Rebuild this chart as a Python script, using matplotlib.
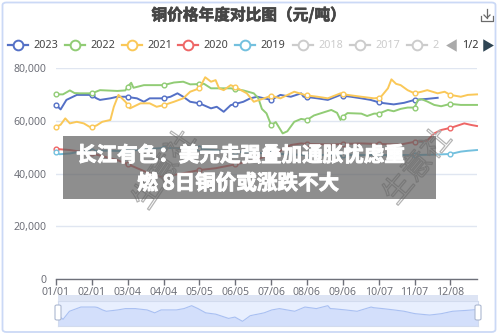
import numpy as np
import matplotlib
matplotlib.use("Agg")
import matplotlib.pyplot as plt
from matplotlib.lines import Line2D
from matplotlib.patches import Rectangle, FancyBboxPatch
import matplotlib.patheffects as pe

plt.rcParams['font.family'] = ['Noto Sans', 'Noto Sans CJK SC', 'DejaVu Sans']

# ---------------- data (values in yuan/ton, x = day index from 01/01) -------------
tick_labels = ["01/01", "02/01", "03/04", "04/04", "05/05", "06/05",
               "07/06", "08/06", "09/06", "10/07", "11/07", "12/08"]
tick_days = [0, 31, 62, 93, 124, 155, 186, 217, 248, 279, 310, 341]

days_2023 = [0, 4, 9, 18, 29, 31, 35, 38, 47, 53, 61, 62, 70, 76, 81, 93, 99, 105, 110, 116,
             124, 134, 139, 145, 151, 155, 157, 162, 168, 174, 180, 186, 194, 203, 212, 214,
             217, 226, 235, 246, 248, 255, 264, 272, 279, 281, 292, 301, 310, 321, 330]
vals_2023 = [66.0, 64.3, 67.9, 69.8, 69.8, 69.6, 68.5, 67.9, 68.5, 69.1,
             69.1, 69.0, 68.5, 67.2, 68.5, 68.5, 69.1, 70.4, 69.1, 67.2,
             66.6, 64.7, 65.3, 63.4, 65.9, 66.4, 66.6, 67.2, 68.5, 69.1,
             68.5, 67.9, 69.8, 69.1, 70.4, 69.1, 69.0, 68.5, 67.9, 69.8,
             69.5, 69.1, 68.5, 67.9, 67.0, 66.8, 66.2, 66.8, 67.9, 68.3, 68.7]

days_2022 = [0, 6, 12, 16, 21, 31, 38, 53, 60, 62, 65, 67, 76, 93, 102, 110, 116, 124, 128,
             134, 151, 155, 162, 171, 175, 178, 182, 186, 190, 196, 200, 206, 212, 217, 223,
             238, 243, 246, 248, 252, 264, 269, 275, 279, 287, 292, 298, 304, 310, 313, 316,
             321, 327, 333, 341, 350, 364]
vals_2022 = [70.0, 70.0, 71.5, 70.5, 70.4, 70.4, 71.6, 71.3, 71.5, 72.9, 74.4, 72.5, 73.5,
             73.5, 74.5, 74.8, 73.8, 73.9, 74.0, 72.3, 72.3, 72.0, 71.5, 70.4, 68.5, 64.5,
             62.8, 58.4, 59.5, 55.2, 56.0, 59.6, 60.7, 60.3, 62.0, 64.1, 63.0, 60.3, 61.5,
             62.9, 62.7, 61.8, 62.7, 62.7, 64.1, 63.6, 64.5, 65.0, 65.0, 67.9, 68.2, 67.3,
             66.0, 65.5, 66.4, 66.0, 66.0]

days_2021 = [0, 4, 8, 12, 18, 24, 29, 31, 35, 40, 47, 50, 54, 60, 62, 64, 73, 81, 87, 93,
             102, 110, 116, 124, 129, 134, 138, 141, 145, 151, 155, 157, 165, 171, 180, 186,
             194, 206, 215, 217, 226, 235, 246, 248, 252, 264, 275, 279, 281, 287, 290, 294,
             298, 304, 310, 316, 321, 330, 336, 341, 350, 356, 364]
vals_2021 = [57.7, 58.5, 60.9, 59.0, 59.6, 59.0, 57.7, 57.7, 58.2, 59.6,
             60.3, 65.3, 69.8, 67.2, 66.0, 64.7, 66.6, 66.6, 65.3, 65.9,
             67.2, 68.5, 71.0, 72.3, 76.5, 74.8, 75.4, 72.3, 71.6, 73.5,
             72.8, 72.3, 70.4, 67.2, 68.5, 69.5, 68.5, 71.0, 69.8, 69.6,
             69.1, 68.5, 70.4, 70.2, 69.8, 69.1, 68.5, 68.7, 69.1, 72.3,
             75.7, 74.0, 73.5, 71.6, 70.4, 71.0, 71.6, 70.4, 71.0, 69.8,
             69.1, 69.8, 70.0]

days_2020 = [0, 12, 21, 31, 53, 62, 67, 81, 90, 93, 109, 124, 138, 152, 155, 167, 181, 186,
             193, 203, 212, 217, 238, 248, 264, 279, 298, 310, 321, 327, 333, 341, 344, 353,
             359, 364]
vals_2020 = [49.3, 48.9, 48.3, 47.6, 45.1, 43.5, 42.6, 40.0, 38.8, 38.8, 40.0, 41.3, 42.0,
             43.2, 43.5, 44.5, 46.4, 47.2, 48.3, 50.8, 51.4, 51.2, 51.0, 51.2, 51.4, 51.2,
             51.0, 52.0, 52.5, 55.2, 56.5, 57.3, 57.7, 59.0, 58.4, 58.0]

days_2019 = [0, 3, 12, 21, 31, 38, 60, 62, 81, 93, 124, 150, 155, 186, 193, 217, 248, 279,
             310, 330, 341, 350, 356, 364]
vals_2019 = [48.0, 47.3, 47.6, 48.3, 48.5, 48.7, 48.5, 48.6, 49.3, 49.7, 49.5, 48.3, 48.2,
             47.6, 47.4, 47.0, 47.0, 47.0, 47.0, 47.2, 47.4, 48.3, 48.6, 48.9]

series_names = ["2023", "2022", "2021", "2020", "2019"]
hidden_names = ["2018", "2017", "2"]
colors = ["#5470c6", "#91cc75", "#fac858", "#ee6666", "#73c0de"]
series_days = [days_2023, days_2022, days_2021, days_2020, days_2019]
series_vals = [vals_2023, vals_2022, vals_2021, vals_2020, vals_2019]

title = "铜价格年度对比图（元/吨）"
overlay_line1 = "长江有色：美元走强叠加通胀忧虑重"
overlay_line2 = "燃 8日铜价或涨跌不大"
watermark = "生意社"

W, H = 500, 335
fig = plt.figure(figsize=(W / 100, H / 100), dpi=100)


def fx(px):
    return px / W


def fy(py):
    return 1 - py / H


# border
fig.patches.append(FancyBboxPatch((fx(2.5), fy(332)), fx(493), (329.5) / H,
                                  boxstyle="round,pad=0,rounding_size=0.008",
                                  transform=fig.transFigure, fc="none",
                                  ec="#cbd9f6", lw=1.3, zorder=10))

# ---------------- main axes ----------------
ax = fig.add_axes([fx(56), fy(279), fx(477 - 56), (279 - 68) / H])
ax.set_xlim(0, 364)
ax.set_ylim(0, 80000)
for s in ["top", "right", "left"]:
    ax.spines[s].set_visible(False)
ax.spines["bottom"].set_color("#6e7079")
ax.spines["bottom"].set_linewidth(1)
ax.set_yticks([0, 20000, 40000, 60000, 80000])
ax.set_yticklabels(["0", "20,000", "40,000", "60,000", "80,000"])
ax.yaxis.grid(True, color="#e0e6f1", lw=1)
ax.set_axisbelow(True)
ax.tick_params(axis="y", length=0, pad=7, labelsize=7.6, labelcolor="#6e7079")
ax.set_xticks(tick_days)
ax.set_xticklabels(tick_labels)
ax.tick_params(axis="x", length=4, width=1, color="#6e7079", pad=2,
               labelsize=7.6, labelcolor="#6e7079")

for d, v, c in zip(series_days, series_vals, colors):
    d = np.array(d)
    v = np.array(v) * 1000
    mask = np.isin(d, tick_days)
    ax.plot(d, v, color=c, lw=1.4, marker="o", markersize=3.4,
            markerfacecolor="white", markeredgecolor=c, markeredgewidth=1,
            markevery=list(mask), clip_on=False, zorder=3)

# ---------------- title ----------------
t = fig.text(fx(249), fy(15), title, ha="center", va="center", fontsize=11.3,
             fontweight="bold", color="#464646", family=["Noto Sans CJK SC"])
t.set_path_effects([pe.withStroke(linewidth=0.5, foreground="#464646")])

# download icon
icon_c = "#6b6b6b"
fig.add_artist(Line2D([fx(481), fx(481), fx(493), fx(493)],
                      [fy(16), fy(21), fy(21), fy(16)], color=icon_c, lw=0.9))
fig.add_artist(Line2D([fx(487), fx(487)], [fy(9), fy(18)], color=icon_c, lw=0.9))
fig.add_artist(Line2D([fx(484), fx(487), fx(490)], [fy(15), fy(18), fy(15)],
                      color=icon_c, lw=0.9))

# ---------------- legend ----------------
leg_y = fy(45)
icon_x = [8, 65, 122, 178, 235, 293, 350, 407]
all_names = series_names + hidden_names
all_cols = colors + ["#cccccc"] * len(hidden_names)
for i, (nm, col) in enumerate(zip(all_names, all_cols)):
    x0 = icon_x[i]
    fig.add_artist(Line2D([fx(x0), fx(x0 + 20)], [leg_y, leg_y], color=col, lw=1.6))
    fig.add_artist(Line2D([fx(x0 + 10)], [leg_y], color=col, marker="o", markersize=7,
                          markerfacecolor="white", markeredgewidth=1.4))
    tcol = "#444444" if i < len(series_names) else "#cccccc"
    fig.text(fx(x0 + 25), leg_y, nm, ha="left", va="center", fontsize=7.8, color=tcol)

fig.add_artist(Line2D([fx(450)], [leg_y], marker=[(1, 1), (1, -1), (-0.7, 0), (1, 1)],
                      markersize=9, color="#aaaaaa", markeredgewidth=0))
fig.text(fx(470), leg_y, "1/2", ha="center", va="center", fontsize=7.8, color="#333333")
fig.add_artist(Line2D([fx(489)], [leg_y], marker=[(-1, 1), (-1, -1), (0.7, 0), (-1, 1)],
                      markersize=9, color="#2f4554", markeredgewidth=0))

# ---------------- watermarks ----------------
for (cx, cy, rot) in [(165, 170, 56), (418, 167, 50)]:
    t = fig.text(fx(cx), fy(cy), watermark, ha="center", va="center", rotation=rot,
                 fontsize=21, color=(1, 1, 1, 0), family=["Noto Sans CJK SC"],
                 zorder=5)
    t.set_path_effects([pe.Stroke(linewidth=0.9, foreground="#b4b4b4")])

# ---------------- overlay ----------------
fig.patches.append(Rectangle((fx(63), fy(199)), fx(436 - 63), (199 - 136) / H,
                             transform=fig.transFigure, fc="#626262", alpha=0.72,
                             ec="none", zorder=6))
for txt, cx, cy in [(overlay_line1, 240, 155), (overlay_line2, 238, 183)]:
    t = fig.text(fx(cx), fy(cy), txt, ha="center", va="center", fontsize=14.8,
                 fontweight="bold", color="white", family=["Noto Sans CJK SC"], zorder=7)
    t.set_path_effects([pe.withStroke(linewidth=0.7, foreground="white")])

# ---------------- data zoom slider ----------------
sx0, sx1, sy_top, sy_bot = 58, 478, 301, 326
# move handle band
fig.patches.append(Rectangle((fx(sx0), fy(sy_top)), fx(sx1 - sx0), 6 / H,
                             transform=fig.transFigure, fc="#dde4f4", ec="none", zorder=1))
sax = fig.add_axes([fx(sx0), fy(sy_bot), fx(sx1 - sx0), (sy_bot - sy_top) / H])
sax.set_facecolor("#e8effe")
for s in sax.spines.values():
    s.set_color("#d2dbee")
    s.set_linewidth(0.8)
sax.set_xticks([])
sax.set_yticks([])
d23 = np.array(days_2023, dtype=float)
v23 = np.array(vals_2023)
xs = d23 / d23.max() * 364
rng = v23.max() - v23.min()
sax.set_xlim(0, 364)
sax.set_ylim(v23.min() - 0.3 * rng, v23.max() + 0.3 * rng)
sax.fill_between(xs, v23, v23.min() - 0.3 * rng, color="#d3dffb", lw=0)
sax.plot(xs, v23, color="#a9c0f2", lw=0.8)
# handles
for hx in [sx0, sx1]:
    fig.patches.append(FancyBboxPatch((fx(hx - 3), fy(320)), fx(6), 15 / H,
                                      boxstyle="round,pad=0,rounding_size=0.004",
                                      transform=fig.transFigure, fc="white",
                                      ec="#acb8d1", lw=0.8, zorder=4))

fig.savefig("out.png", dpi=100)
